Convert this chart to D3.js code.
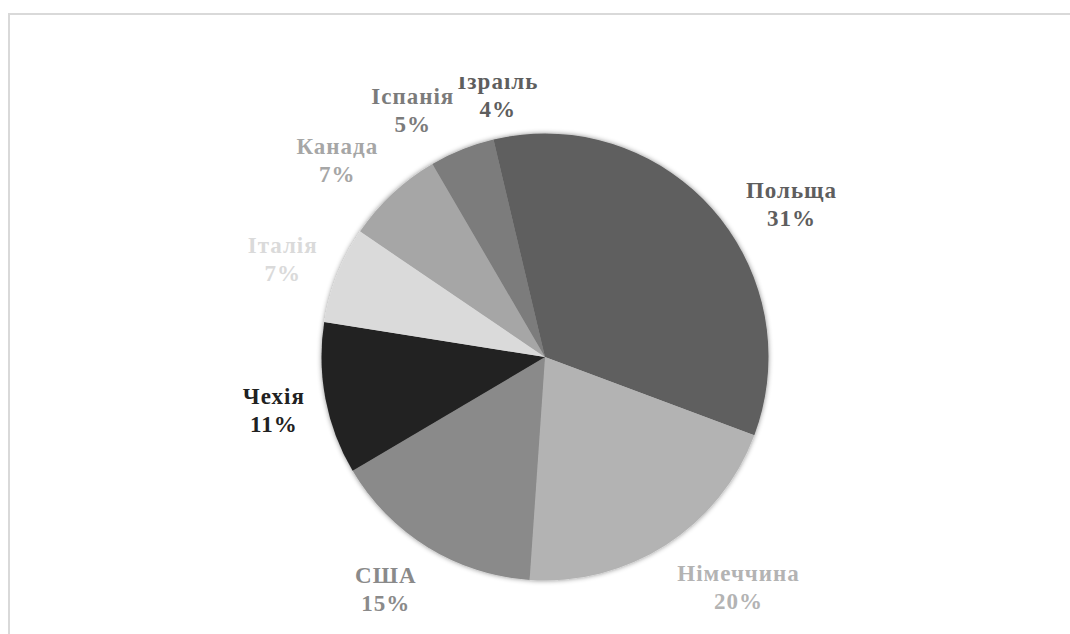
<!DOCTYPE html>
<html>
<head>
<meta charset="utf-8">
<script src="https://cdn.jsdelivr.net/npm/d3@7"></script>
<style>
  html, body { margin: 0; padding: 0; background: #fff; }
  svg { display: block; }
</style>
</head>
<body>
<svg id="PIE_CHART"></svg>
<script>
// країни та частки (%)
const countries = ["Польща", "Німеччина", "США", "Чехія", "Італія", "Канада", "Іспанія", "Ізраїль"];
const shares = [30.7, 20.4, 15.4, 11.0, 7.0, 7.1, 4.7, 3.7];

// відтінки сірого для секторів
const palette = ["#5e5e5e", "#b3b3b3", "#8a8a8a", "#212121", "#dadada", "#a6a6a6", "#7b7b7b", "#5e5e5e"];

var pieChart = {
  createChart: function () {
    var width = 1070;
    var height = 634;
    var cx = 545;
    var cy = 357;
    var radius = 223.5;
    var gap = 16;

    var data = countries.map(function (c, i) {
      return { name: c, value: shares[i] };
    });
    var total = d3.sum(shares);

    var color = d3.scaleOrdinal().domain(countries).range(palette);

    var svg = d3.select("#PIE_CHART")
      .attr("width", width)
      .attr("height", height);

    var defs = svg.append("defs");
    var shadow = defs.append("filter")
      .attr("id", "pie-shadow")
      .attr("x", "-10%").attr("y", "-10%")
      .attr("width", "120%").attr("height", "120%");
    shadow.append("feDropShadow")
      .attr("dx", 0).attr("dy", 0)
      .attr("stdDeviation", 2.5)
      .attr("flood-color", "#000")
      .attr("flood-opacity", 0.45);

    defs.append("clipPath")
      .attr("id", "plot-clip")
      .append("rect")
      .attr("x", 0).attr("y", 77)
      .attr("width", width).attr("height", height);

    // рамка діаграми
    svg.append("rect")
      .attr("x", 9).attr("y", 14)
      .attr("width", width + 20).attr("height", height + 20)
      .attr("fill", "none")
      .attr("stroke", "#d9d9d9")
      .attr("stroke-width", 2);

    var pie = d3.pie().sort(null).value(function (d) { return d.value; });
    var arc = d3.arc().innerRadius(0).outerRadius(radius);
    var arcs = pie(data);

    svg.append("g")
      .attr("transform", "translate(" + cx + "," + cy + ")")
      .attr("filter", "url(#pie-shadow)")
      .selectAll("path")
      .data(arcs)
      .join("path")
      .attr("d", arc)
      .attr("fill", function (d) { return color(d.data.name); });

    var labels = svg.append("g")
      .attr("clip-path", "url(#plot-clip)")
      .selectAll("g")
      .data(arcs)
      .join("g");

    labels.each(function (d) {
      var g = d3.select(this);
      var t = g.append("text")
        .attr("text-anchor", "middle")
        .style("font-family", "'Liberation Serif', 'Times New Roman', serif")
        .style("font-weight", "bold")
        .style("font-size", "23px")
        .style("letter-spacing", "1px")
        .attr("fill", color(d.data.name));
      t.append("tspan").attr("x", 0).attr("dy", 0).text(d.data.name);
      t.append("tspan").attr("x", 0).attr("dy", 28)
        .text(Math.round(d.data.value / total * 100) + "%");

      var bb = t.node().getBBox();
      var mid = (d.startAngle + d.endAngle) / 2;
      var sx = Math.sin(mid), cs = Math.cos(mid);

      // точка на промені за межами кола
      var px = cx + sx * (radius + gap + 5);
      var py = cy - cs * (radius + gap) + 2.5;
      // яка точка рамки підпису прилягає до неї (кут або край)
      var fx = Math.max(0, Math.min(1, 0.5 - 2 * sx));
      var fy = Math.max(0, Math.min(1, 0.5 + 0.62 * cs));
      var left = px - fx * bb.width;
      var top = py - fy * bb.height;
      g.attr("transform", "translate(" + (left - bb.x) + "," + (top - bb.y) + ")");
    });

    return svg.node();
  }
};

pieChart.createChart();
</script>
</body>
</html>
